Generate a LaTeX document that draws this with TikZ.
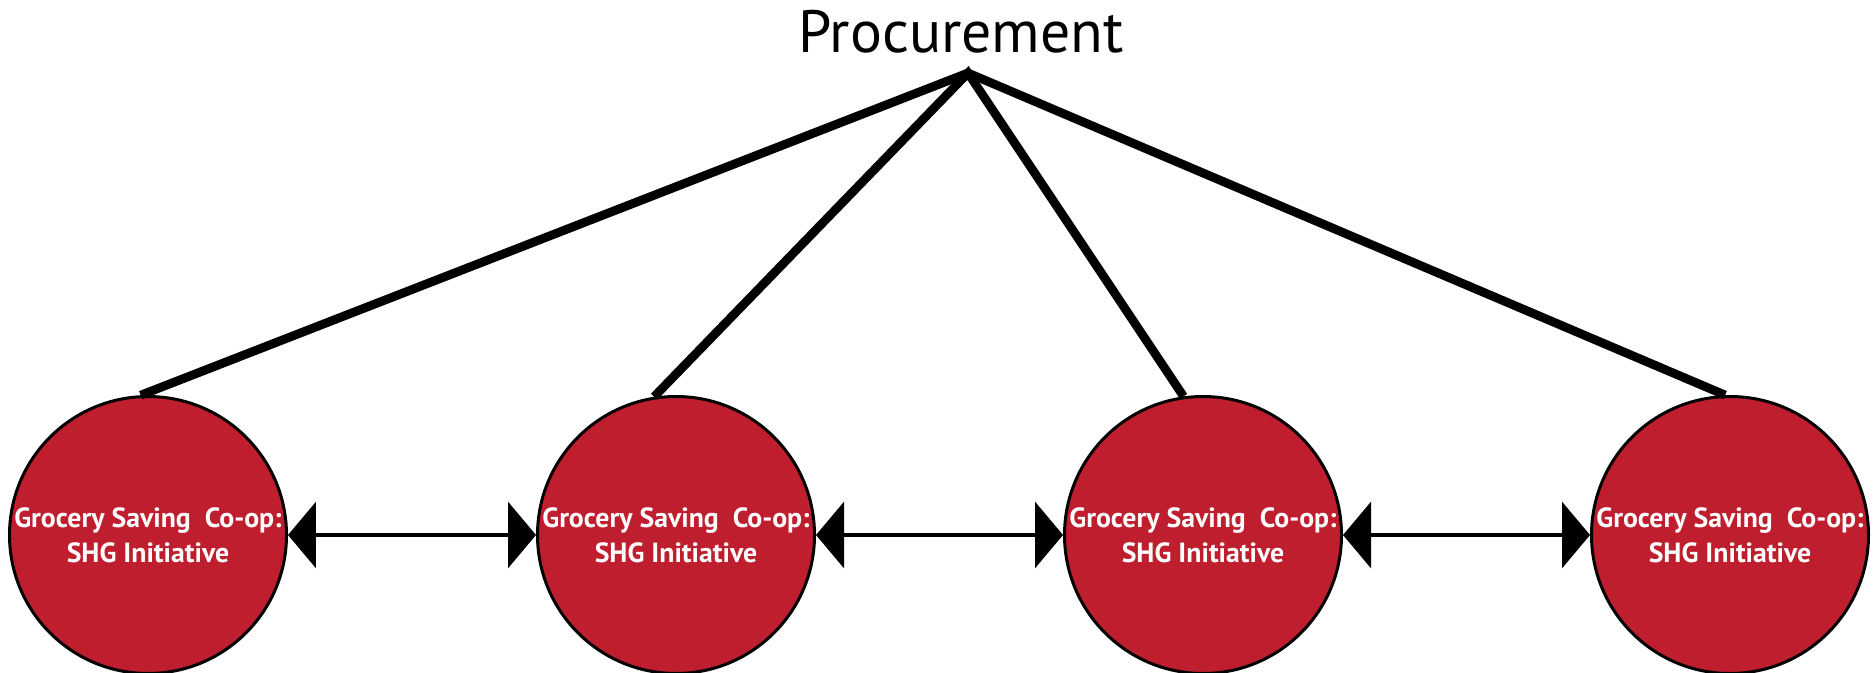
\documentclass[tikz,border=0pt]{standalone}
\usepackage{fontspec}
\setmainfont{PT Sans}
\usetikzlibrary{arrows.meta}
\definecolor{coopred}{RGB}{190,30,45}
\begin{document}
\begin{tikzpicture}[line join=miter, line cap=butt, >={Triangle[length=0.28cm,width=0.66cm]},
	coop/.style={circle, draw=black, line width=0.85pt, fill=coopred, minimum size=2.77cm, inner sep=0pt, text=white, align=center, font=\fontsize{7.9}{10}\selectfont\bfseries},
	link/.style={line width=2.5pt}]
	\useasboundingbox (0,0) rectangle (18.73,6.72);
	\def\cy{1.37} % height of the co-op row
	\node[coop] (c1) at (1.48,\cy) {Grocery Saving\ \ Co-op:\\SHG Initiative};
	\node[coop] (c2) at (6.76,\cy) {Grocery Saving\ \ Co-op:\\SHG Initiative};
	\node[coop] (c3) at (12.03,\cy) {Grocery Saving\ \ Co-op:\\SHG Initiative};
	\node[coop] (c4) at (17.30,\cy) {Grocery Saving\ \ Co-op:\\SHG Initiative};
	\node[anchor=base, font=\fontsize{17}{20}\selectfont] (proc) at (9.61,6.19) {Procurement};
	\coordinate (apex) at (9.68,5.99);
	\draw[link] (c1.93) -- (apex) -- (c4.92);
	\draw[link] (c2.99) -- (apex) -- (c3.98);
	\draw[<->, line width=1pt] (c1.east)--(c2.west);
	\draw[<->, line width=1pt] (c2.east)--(c3.west);
	\draw[<->, line width=1pt] (c3.east)--(c4.west);
\end{tikzpicture}
\end{document}
